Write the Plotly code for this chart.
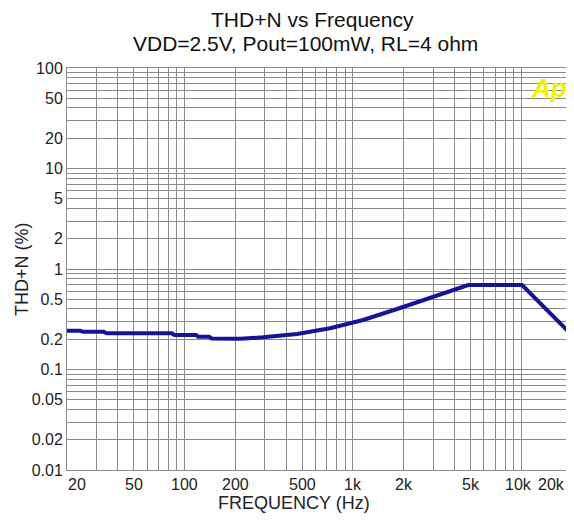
import numpy as np
import plotly.graph_objects as go

# ---- data ----
freq_hz = [20, 24, 25, 33, 34.5, 84, 87, 117, 120, 140, 145, 213, 292, 465, 730,
           1148, 1828, 2990, 4830, 10100, 20000]
thdn_pct = [0.243, 0.243, 0.237, 0.237, 0.229, 0.229, 0.220, 0.220, 0.212, 0.212,
            0.203, 0.202, 0.209, 0.226, 0.257, 0.311, 0.40, 0.523, 0.693, 0.693, 0.22]

y_label_vals = [100, 50, 20, 10, 5, 2, 1, 0.5, 0.2, 0.1, 0.05, 0.02, 0.01]
y_label_text = ["100", "50", "20", "10", "5", "2", "1", "0.5", "0.2", "0.1", "0.05", "0.02", "0.01"]
x_label_vals = [20, 50, 100, 200, 500, 1000, 2000, 5000, 10000, 20000]
x_label_text = ["20", "50", "100", "200", "500", "1k", "2k", "5k", "10k", "20k"]

title_line1 = "THD+N vs Frequency"
title_line2 = "VDD=2.5V, Pout=100mW, RL=4 ohm"
x_title = "FREQUENCY (Hz)"
y_title = "THD+N (%)"

# ---- grid values (1..9 per decade) ----
def decade_grid(lo_exp, hi_exp):
    vals = []
    for e in range(lo_exp, hi_exp + 1):
        for m in range(1, 10):
            vals.append(m * 10.0 ** e)
    return vals

y_grid = [v for v in decade_grid(-2, 2) if 0.01 - 1e-12 <= v <= 100 + 1e-9]
x_grid = [v for v in decade_grid(1, 4) if 20 - 1e-9 <= v <= 20000 + 1e-9]

def fmt(v, vals, texts):
    for a, t in zip(vals, texts):
        if abs(a - v) / a < 1e-6:
            return t
    return ""

y_ticktext = [fmt(v, y_label_vals, y_label_text) for v in y_grid]
# x labels drawn as annotations (end labels are nudged inward as in the reference)
x_ticktext = ["" for v in x_grid]

FONT = "Arial, Liberation Sans, sans-serif"
GRID = "#8a8a8a"
TXT = "#222222"

fig = go.Figure()
fig.add_trace(go.Scatter(
    x=freq_hz, y=thdn_pct, mode="lines",
    line=dict(color="#14149a", width=4),
    hoverinfo="skip", showlegend=False,
))

fig.update_xaxes(
    type="log", range=[np.log10(20), np.log10(20000)],
    tickvals=x_grid, ticktext=x_ticktext,
    showgrid=True, gridcolor=GRID, gridwidth=1,
    showline=True, linecolor=GRID, linewidth=1, mirror=True,
    ticks="", zeroline=False, fixedrange=True,
)
fig.update_yaxes(
    type="log", range=[-2, 2],
    tickvals=y_grid, ticktext=y_ticktext,
    showgrid=True, gridcolor=GRID, gridwidth=1,
    showline=True, linecolor=GRID, linewidth=1, mirror=True,
    ticks="", zeroline=False, fixedrange=True,
    tickfont=dict(family=FONT, size=16, color=TXT),
)

x_shift = {"20": 10, "20k": -21, "10k": -3}
annotations = []
for v, t in zip(x_label_vals, x_label_text):
    annotations.append(dict(
        x=np.log10(v), y=0, xref="x", yref="paper",
        text=t, showarrow=False, xanchor="center", yanchor="middle",
        xshift=x_shift.get(t, 0), yshift=-14,
        font=dict(family=FONT, size=16, color=TXT),
    ))

annotations += [
    dict(x=0.487, y=1, xref="paper", yref="paper", xanchor="center", yanchor="middle",
         text=title_line1, showarrow=False, yshift=49,
         font=dict(family=FONT, size=21, color="#111111")),
    dict(x=0.472, y=1, xref="paper", yref="paper", xanchor="center", yanchor="middle",
         text=title_line2, showarrow=False, yshift=25,
         font=dict(family=FONT, size=21, color="#111111")),
    dict(x=0.4495, y=0, xref="paper", yref="paper", xanchor="center", yanchor="middle",
         text=x_title, showarrow=False, yshift=-33,
         font=dict(family=FONT, size=18, color=TXT)),
    dict(x=-0.089, y=0.5, xref="paper", yref="paper", xanchor="center", yanchor="middle",
         text=y_title, showarrow=False, textangle=-90,
         font=dict(family=FONT, size=18, color=TXT)),
    dict(x=0.955, y=0.95, xref="paper", yref="paper", xanchor="center", yanchor="middle",
         text="<b><i>Ap</i></b>", showarrow=False,
         font=dict(family=FONT, size=26, color="#f2f200")),
]

# the page body adds an 8 px margin, so the figure is 8 px smaller on each side
fig.update_layout(
    width=566, height=513,
    margin=dict(l=59, r=2, t=60, b=51),
    paper_bgcolor="white", plot_bgcolor="white",
    annotations=annotations,
    showlegend=False,
)

fig.write_html("out.html")
